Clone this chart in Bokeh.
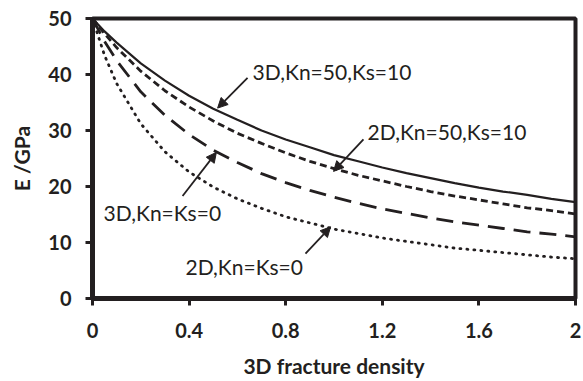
from bokeh.plotting import figure
from bokeh.models import Range1d, FixedTicker, Arrow, NormalHead, Label, Span
from bokeh.embed import file_html
from bokeh.resources import INLINE

density = [0, 0.05, 0.1, 0.2, 0.3, 0.4, 0.5, 0.6, 0.7, 0.8, 0.9, 1.0,
           1.1, 1.2, 1.3, 1.4, 1.5, 1.6, 1.7, 1.8, 1.9, 2.0]
e_3d_kn50 = [50, 47.7, 45.7, 42.0, 38.9, 36.2, 33.9, 31.9, 30.0, 28.4, 27.0, 25.6,
             24.5, 23.4, 22.4, 21.5, 20.6, 19.8, 19.1, 18.5, 17.8, 17.2]
e_2d_kn50 = [50, 47.3, 44.8, 40.6, 37.1, 34.2, 31.7, 29.5, 27.7, 26.0, 24.5, 23.2,
             22.0, 21.0, 20.0, 19.1, 18.3, 17.6, 16.9, 16.2, 15.7, 15.1]
e_3d_kn0 = [50, 45.9, 42.5, 36.9, 32.7, 29.3, 26.5, 24.3, 22.3, 20.7, 19.3, 18.1,
            17.0, 16.0, 15.2, 14.4, 13.7, 13.1, 12.5, 11.9, 11.5, 11.0]
e_2d_kn0 = [50, 43.4, 38.4, 31.2, 26.2, 22.6, 19.9, 17.8, 16.1, 14.6, 13.5, 12.4,
            11.6, 10.8, 10.2, 9.6, 9.0, 8.6, 8.2, 7.8, 7.4, 7.1]

x_ticks = [0, 0.4, 0.8, 1.2, 1.6, 2]
x_tick_labels = {0: "0", 0.4: "0.4", 0.8: "0.8", 1.2: "1.2", 1.6: "1.6", 2: "2"}
y_ticks = [0, 10, 20, 30, 40, 50]

labels = ["3D,Kn=50,Ks=10", "2D,Kn=50,Ks=10", "3D,Kn=Ks=0", "2D,Kn=Ks=0"]
label_x = [0.663, 1.139, 0.046, 0.385]
label_y = [40.5, 29.8, 15.4, 5.7]
arrow_start = [(0.642, 39.4), (1.122, 28.4), (0.373, 18.3), (0.882, 8.0)]
arrow_end = [(0.518, 34.0), (0.998, 22.7), (0.513, 26.1), (0.986, 12.8)]

FONT = "Lato"
INK = "#231f20"

p = figure(width=583, height=380, output_backend="svg", toolbar_location=None,
           x_range=Range1d(0, 2), y_range=Range1d(0, 50),
           min_border_left=92, min_border_right=8, min_border_top=18,
           min_border_bottom=80)
p.grid.visible = False
p.outline_line_color = INK
p.outline_line_width = 4
p.background_fill_color = "white"
p.border_fill_color = "white"

p.line(density, e_3d_kn50, line_color=INK, line_width=2.2)
p.line(density, e_2d_kn50, line_color=INK, line_width=2.8, line_dash="7 4")
p.line(density, e_3d_kn0, line_color=INK, line_width=2.8, line_dash="17 9")
p.line(density, e_2d_kn0, line_color=INK, line_width=2.8, line_dash="1 6",
       line_cap="round")

# heavier frame edges (axes, top and right)
p.add_layout(Span(location=0, dimension="height", line_color=INK, line_width=4))
p.add_layout(Span(location=0, dimension="width", line_color=INK, line_width=4))
p.add_layout(Span(location=50, dimension="width", line_color=INK, line_width=3))
p.add_layout(Span(location=2, dimension="height", line_color=INK, line_width=2.5))

for ax in (p.xaxis[0], p.yaxis[0]):
    ax.axis_line_width = 5
    ax.axis_line_color = INK
    ax.major_tick_line_width = 3
    ax.major_tick_line_color = INK
    ax.minor_tick_line_color = None
    ax.major_label_text_font = FONT
    ax.major_label_text_font_style = "bold"
    ax.major_label_text_font_size = "20px"
    ax.major_label_text_color = INK
    ax.axis_label_text_font = FONT
    ax.axis_label_text_font_style = "bold"
    ax.axis_label_text_font_size = "21px"
    ax.axis_label_text_color = INK

p.xaxis.ticker = FixedTicker(ticks=x_ticks)
p.xaxis.major_label_overrides = x_tick_labels
p.xaxis.major_tick_in = 0
p.xaxis.major_tick_out = 7
p.xaxis.major_label_standoff = 17
p.xaxis.axis_label = "3D fracture density"
p.xaxis.axis_label_standoff = 12

p.yaxis.ticker = FixedTicker(ticks=y_ticks)
p.yaxis.major_tick_in = 0
p.yaxis.major_tick_out = 7
p.yaxis.major_label_standoff = 14
p.yaxis.axis_label = "E /GPa"
p.yaxis.axis_label_standoff = 11

for t, lx, ly in zip(labels, label_x, label_y):
    p.add_layout(Label(x=lx, y=ly, text=t, text_font=FONT, text_font_size="21px",
                       text_color=INK, text_baseline="middle", text_align="left"))

for (x0, y0), (x1, y1) in zip(arrow_start, arrow_end):
    p.add_layout(Arrow(end=NormalHead(size=10, fill_color=INK, line_color=INK),
                       x_start=x0, y_start=y0, x_end=x1, y_end=y1,
                       line_color=INK, line_width=1.8))

open("out.html", "w").write(file_html(p, INLINE))
